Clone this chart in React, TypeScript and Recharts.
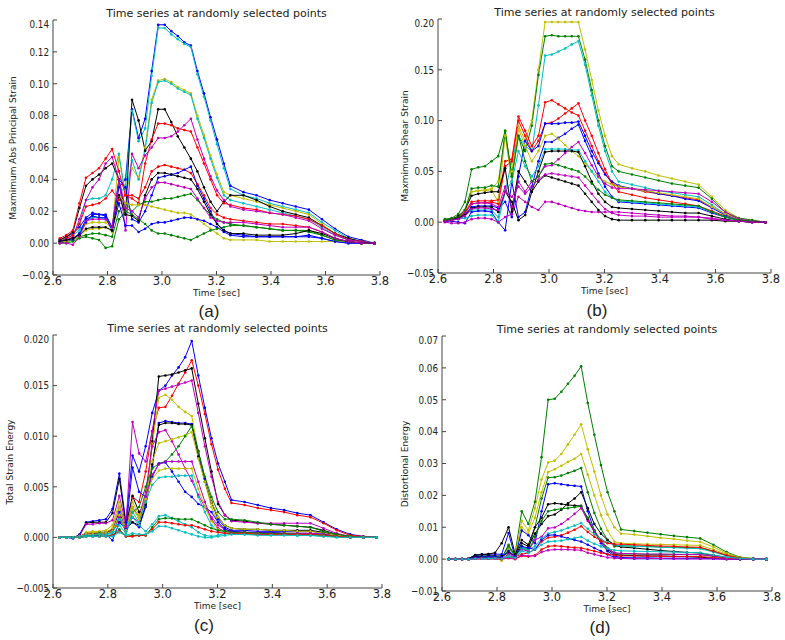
import { Line, LineChart, XAxis, YAxis } from "recharts";

// sample times (s): every point up to 3.25 s, every other point after that
const TIME = [
  2.625, 2.649, 2.673, 2.697,
  2.721, 2.745, 2.769, 2.793, 2.817,
  2.842, 2.866, 2.89, 2.914, 2.938, 2.962,
  2.986, 3.01, 3.034, 3.058, 3.082, 3.106,
  3.13, 3.154, 3.178, 3.202, 3.227, 3.251,
  3.299, 3.347, 3.395, 3.443, 3.491, 3.539,
  3.587, 3.635, 3.684, 3.732, 3.78,
];
const X_TICKS = [2.6, 2.8, 3.0, 3.2, 3.4, 3.6, 3.8];

const TITLE = "Time series at randomly selected points";
const X_LABEL = "Time [sec]";

// matplotlib classic colours
const B = "#0000ff";
const G = "#008000";
const R = "#ff0000";
const C = "#00bfbf";
const M = "#bf00bf";
const Y = "#bfbf00";
const K = "#000000";

const FRAME = "#444";
const TEXT = "#222";
const FONT = "'DejaVu Sans', Verdana, sans-serif";

// (a) Maximum abs principal strain
const A_TICKS = [-0.02, 0, 0.02, 0.04, 0.06, 0.08, 0.1, 0.12, 0.14];
const aBlue1 = [0.002, 0.004, 0.006, 0.01, 0.016, 0.019, 0.018, 0.018, 0.01, 0.035, 0.04, 0.084, 0.066, 0.078, 0.108, 0.137, 0.137, 0.133, 0.13, 0.126, 0.124, 0.108, 0.094, 0.079, 0.065, 0.05, 0.036, 0.032, 0.03, 0.027, 0.025, 0.023, 0.021, 0.015, 0.009, 0.004, 0.002, 0];
const aCyan1 = [0.001, 0.003, 0.005, 0.008, 0.014, 0.016, 0.016, 0.015, 0.009, 0.03, 0.036, 0.083, 0.064, 0.072, 0.105, 0.135, 0.135, 0.131, 0.128, 0.125, 0.123, 0.106, 0.092, 0.077, 0.062, 0.047, 0.034, 0.03, 0.028, 0.025, 0.023, 0.021, 0.019, 0.013, 0.008, 0.003, 0.001, 0];
const aYellow1 = [0.001, 0.002, 0.003, 0.006, 0.012, 0.013, 0.013, 0.013, 0.009, 0.054, 0.03, 0.047, 0.041, 0.06, 0.09, 0.102, 0.103, 0.101, 0.098, 0.096, 0.094, 0.08, 0.068, 0.055, 0.043, 0.032, 0.03, 0.028, 0.026, 0.024, 0.022, 0.02, 0.018, 0.012, 0.006, 0.003, 0.001, 0];
const aCyan2 = [0.002, 0.003, 0.005, 0.012, 0.027, 0.028, 0.028, 0.03, 0.04, 0.056, 0.03, 0.052, 0.04, 0.058, 0.088, 0.101, 0.102, 0.1, 0.097, 0.095, 0.093, 0.078, 0.066, 0.053, 0.041, 0.03, 0.027, 0.025, 0.023, 0.021, 0.019, 0.017, 0.015, 0.01, 0.005, 0.002, 0.001, 0];
const aBlack1 = [0.002, 0.004, 0.007, 0.022, 0.036, 0.04, 0.043, 0.047, 0.05, 0.04, 0.018, 0.09, 0.077, 0.058, 0.064, 0.084, 0.084, 0.076, 0.067, 0.06, 0.053, 0.045, 0.035, 0.026, 0.02, 0.026, 0.03, 0.03, 0.027, 0.023, 0.02, 0.018, 0.016, 0.011, 0.006, 0.003, 0.001, 0];
const aRed1 = [0.003, 0.005, 0.008, 0.025, 0.041, 0.044, 0.047, 0.053, 0.059, 0.045, 0.03, 0.028, 0.025, 0.05, 0.065, 0.075, 0.075, 0.074, 0.072, 0.071, 0.07, 0.06, 0.05, 0.04, 0.03, 0.025, 0.024, 0.022, 0.021, 0.019, 0.018, 0.017, 0.015, 0.011, 0.006, 0.002, 0.001, 0];
const aMagenta1 = [0.001, 0.002, 0.004, 0.015, 0.027, 0.035, 0.04, 0.05, 0.054, 0.04, 0.008, 0.056, 0.047, 0.055, 0.06, 0.066, 0.066, 0.067, 0.07, 0.074, 0.078, 0.065, 0.053, 0.042, 0.033, 0.027, 0.023, 0.021, 0.02, 0.019, 0.018, 0.016, 0.014, 0.009, 0.005, 0.002, 0.001, 0];
const aRed2 = [0.001, 0.003, 0.005, 0.012, 0.023, 0.024, 0.025, 0.028, 0.033, 0.027, 0.03, 0.03, 0.028, 0.035, 0.045, 0.048, 0.049, 0.048, 0.047, 0.046, 0.044, 0.037, 0.03, 0.022, 0.018, 0.016, 0.015, 0.014, 0.013, 0.012, 0.012, 0.011, 0.01, 0.007, 0.003, 0.001, 0, 0];
const aBlue2 = [0.001, 0.002, 0.003, 0.006, 0.013, 0.018, 0.018, 0.017, 0.01, 0.04, 0.035, 0.015, 0.013, 0.02, 0.03, 0.041, 0.042, 0.043, 0.044, 0.046, 0.048, 0.036, 0.028, 0.02, 0.012, 0.008, 0.006, 0.005, 0.004, 0.004, 0.004, 0.004, 0.004, 0.003, 0.001, 0, 0, 0];
const aGreen1 = [0, 0.001, 0.002, 0.004, 0.005, 0.006, 0.006, 0.005, 0.004, 0.02, 0.025, 0.02, 0.024, 0.026, 0.026, 0.027, 0.028, 0.028, 0.029, 0.03, 0.031, 0.027, 0.022, 0.018, 0.015, 0.013, 0.012, 0.011, 0.01, 0.009, 0.008, 0.008, 0.007, 0.005, 0.002, 0.001, 0, 0];
const aYellow2 = [0.001, 0.001, 0.002, 0.004, 0.008, 0.009, 0.009, 0.01, 0.007, 0.03, 0.025, 0.024, 0.024, 0.024, 0.023, 0.022, 0.021, 0.02, 0.019, 0.019, 0.018, 0.015, 0.012, 0.009, 0.006, 0.003, 0.002, 0.002, 0.002, 0.001, 0.001, 0.001, 0.001, 0.001, 0.001, 0.001, 0, 0];
const aBlue3 = [0.001, 0.002, 0.002, 0.006, 0.015, 0.017, 0.016, 0.016, 0.008, 0.025, 0.011, 0.011, 0.007, 0.009, 0.012, 0.013, 0.013, 0.014, 0.015, 0.016, 0.016, 0.015, 0.014, 0.012, 0.01, 0.007, 0.005, 0.004, 0.004, 0.004, 0.004, 0.004, 0.005, 0.003, 0.001, 0, 0, 0];
const aGreen2 = [0, 0, 0.001, 0.003, 0.004, 0.003, 0.002, -0.003, -0.002, 0.015, 0.02, 0.018, 0.015, 0.012, 0.008, 0.006, 0.006, 0.005, 0.004, 0.003, 0.002, 0.004, 0.006, 0.008, 0.009, 0.01, 0.011, 0.011, 0.01, 0.009, 0.008, 0.008, 0.008, 0.005, 0.002, 0.001, 0, 0];
const aBlack2 = [0.001, 0.002, 0.003, 0.005, 0.009, 0.01, 0.01, 0.01, 0.008, 0.03, 0.018, 0.017, 0.014, 0.03, 0.04, 0.044, 0.044, 0.043, 0.042, 0.041, 0.04, 0.034, 0.026, 0.018, 0.012, 0.008, 0.006, 0.006, 0.005, 0.005, 0.005, 0.006, 0.008, 0.006, 0.003, 0.001, 0, 0];
const aMagenta2 = [0, 0, -0.001, 0.004, 0.014, 0.015, 0.015, 0.015, 0.01, 0.04, 0.022, 0.02, 0.016, 0.028, 0.035, 0.038, 0.038, 0.037, 0.036, 0.035, 0.034, 0.028, 0.022, 0.016, 0.014, 0.013, 0.013, 0.013, 0.012, 0.011, 0.01, 0.01, 0.01, 0.007, 0.003, 0.001, 0, 0];

// (b) Maximum shear strain
const B_TICKS = [-0.05, 0, 0.05, 0.1, 0.15, 0.2];
const bYellow1 = [0.002, 0.003, 0.005, 0.01, 0.03, 0.031, 0.032, 0.033, 0.04, 0.085, 0.05, 0.095, 0.08, 0.1, 0.15, 0.197, 0.197, 0.197, 0.197, 0.197, 0.197, 0.17, 0.14, 0.11, 0.085, 0.065, 0.057, 0.053, 0.05, 0.046, 0.043, 0.04, 0.037, 0.025, 0.012, 0.004, 0.002, 0];
const bGreen1 = [0.003, 0.004, 0.008, 0.02, 0.052, 0.054, 0.055, 0.06, 0.065, 0.09, 0.045, 0.085, 0.07, 0.095, 0.145, 0.183, 0.184, 0.183, 0.183, 0.183, 0.183, 0.16, 0.13, 0.1, 0.075, 0.055, 0.05, 0.047, 0.044, 0.041, 0.038, 0.036, 0.034, 0.023, 0.01, 0.004, 0.002, 0];
const bCyan1 = [0.002, 0.003, 0.004, 0.006, 0.012, 0.012, 0.012, 0.012, 0.005, 0.03, 0.06, 0.085, 0.075, 0.07, 0.115, 0.164, 0.165, 0.168, 0.171, 0.175, 0.178, 0.155, 0.125, 0.095, 0.07, 0.05, 0.04, 0.037, 0.034, 0.031, 0.029, 0.027, 0.025, 0.017, 0.008, 0.003, 0.001, 0];
const bRed1 = [0.002, 0.003, 0.005, 0.01, 0.02, 0.021, 0.021, 0.021, 0.022, 0.06, 0.062, 0.104, 0.09, 0.075, 0.085, 0.118, 0.12, 0.116, 0.112, 0.108, 0.105, 0.09, 0.075, 0.06, 0.048, 0.038, 0.035, 0.033, 0.03, 0.028, 0.026, 0.024, 0.022, 0.015, 0.008, 0.003, 0.001, 0];
const bRed2 = [0.001, 0.002, 0.004, 0.009, 0.018, 0.019, 0.019, 0.02, 0.018, 0.055, 0.06, 0.1, 0.085, 0.07, 0.08, 0.097, 0.098, 0.102, 0.107, 0.112, 0.117, 0.1, 0.085, 0.068, 0.052, 0.038, 0.03, 0.027, 0.024, 0.022, 0.02, 0.018, 0.016, 0.011, 0.006, 0.002, 0.001, 0];
const bBlue1 = [0.001, 0.002, 0.004, 0.008, 0.015, 0.016, 0.016, 0.016, 0.014, 0.02, 0.005, 0.045, 0.08, 0.07, 0.075, 0.097, 0.097, 0.097, 0.098, 0.098, 0.099, 0.085, 0.07, 0.058, 0.047, 0.04, 0.036, 0.033, 0.031, 0.028, 0.026, 0.023, 0.021, 0.014, 0.007, 0.003, 0.001, 0];
const bBlue2 = [0.001, 0.001, 0, -0.001, 0.01, 0.011, 0.011, 0.01, 0, -0.008, 0.04, 0.005, 0.01, 0.035, 0.06, 0.079, 0.079, 0.083, 0.087, 0.092, 0.096, 0.08, 0.065, 0.048, 0.035, 0.025, 0.02, 0.019, 0.018, 0.017, 0.016, 0.015, 0.014, 0.009, 0.005, 0.002, 0.001, 0];
const bYellow2 = [0.002, 0.003, 0.005, 0.012, 0.03, 0.031, 0.031, 0.032, 0.02, 0.085, 0.04, 0.092, 0.075, 0.06, 0.07, 0.085, 0.087, 0.082, 0.076, 0.07, 0.065, 0.058, 0.05, 0.044, 0.04, 0.037, 0.035, 0.033, 0.031, 0.029, 0.027, 0.025, 0.023, 0.015, 0.008, 0.003, 0.001, 0];
const bCyan2 = [0.001, 0.002, 0.003, 0.004, 0.006, 0.007, 0.007, 0.007, 0, 0.03, 0.04, 0.07, 0.055, 0.045, 0.055, 0.072, 0.072, 0.072, 0.072, 0.071, 0.071, 0.06, 0.05, 0.04, 0.03, 0.024, 0.021, 0.02, 0.019, 0.018, 0.017, 0.016, 0.015, 0.01, 0.005, 0.002, 0.001, 0];
const bBlack1 = [0.002, 0.003, 0.006, 0.012, 0.026, 0.028, 0.029, 0.03, 0.03, 0.053, 0.01, 0.05, 0.04, 0.03, 0.05, 0.069, 0.07, 0.07, 0.07, 0.07, 0.069, 0.055, 0.04, 0.028, 0.02, 0.015, 0.014, 0.013, 0.012, 0.011, 0.01, 0.009, 0.009, 0.006, 0.003, 0.001, 0, 0];
const bMagenta1 = [0.001, 0.002, 0.004, 0.009, 0.018, 0.019, 0.019, 0.018, 0.015, 0.035, 0.015, 0.04, 0.03, 0.04, 0.045, 0.055, 0.056, 0.062, 0.068, 0.074, 0.079, 0.068, 0.056, 0.045, 0.038, 0.034, 0.033, 0.033, 0.032, 0.031, 0.03, 0.029, 0.028, 0.02, 0.01, 0.003, 0.001, 0];
const bGreen2 = [0.002, 0.003, 0.005, 0.012, 0.033, 0.034, 0.034, 0.036, 0.035, 0.09, 0.045, 0.085, 0.06, 0.04, 0.045, 0.057, 0.058, 0.056, 0.054, 0.052, 0.05, 0.045, 0.038, 0.032, 0.027, 0.024, 0.022, 0.021, 0.02, 0.019, 0.018, 0.017, 0.016, 0.01, 0.005, 0.002, 0.001, 0];
const bMagenta2 = [0, -0.001, -0.001, 0, 0.003, 0.004, 0.004, 0.003, 0, 0.005, 0.008, 0.025, 0.02, 0.015, 0.012, 0.02, 0.02, 0.018, 0.016, 0.014, 0.012, 0.011, 0.01, 0.01, 0.01, 0.01, 0.01, 0.009, 0.008, 0.007, 0.006, 0.006, 0.005, 0.004, 0.002, 0.001, 0, 0];
const bBlack2 = [0.001, 0.002, 0.004, 0.007, 0.014, 0.015, 0.015, 0.015, 0.01, 0.03, 0.02, 0.002, 0.007, 0.03, 0.04, 0.046, 0.044, 0.042, 0.04, 0.038, 0.036, 0.028, 0.02, 0.012, 0.006, 0.003, 0.002, 0.002, 0.002, 0.002, 0.002, 0.002, 0.002, 0.002, 0.001, 0.001, 0, 0];
const bMagenta3 = [0.001, 0.002, 0.003, 0.006, 0.013, 0.014, 0.014, 0.013, 0.012, 0.03, 0.025, 0.035, 0.028, 0.035, 0.042, 0.047, 0.048, 0.047, 0.046, 0.045, 0.044, 0.036, 0.028, 0.02, 0.013, 0.009, 0.007, 0.006, 0.006, 0.005, 0.005, 0.005, 0.005, 0.003, 0.002, 0.001, 0, 0];

// (c) Total strain energy
const C_TICKS = [-0.005, 0, 0.005, 0.01, 0.015, 0.02];
const cBlue1 = [0, 0, -0.0001, 0.0003, 0.0015, 0.0016, 0.0017, 0.0018, 0.0028, 0.0063, 0.0015, 0.0081, 0.0065, 0.009, 0.0123, 0.0145, 0.015, 0.016, 0.0168, 0.0178, 0.0194, 0.016, 0.0128, 0.0098, 0.0073, 0.0055, 0.0037, 0.0035, 0.0032, 0.0029, 0.0027, 0.0024, 0.0022, 0.0015, 0.0008, 0.0003, 0.0001, 0];
const cRed1 = [0, 0, 0, 0.0001, 0.0003, 0.0003, 0.0003, 0.0004, 0.0006, 0.0015, 0.001, 0.004, 0.0035, 0.0065, 0.0105, 0.0128, 0.0129, 0.014, 0.0152, 0.0163, 0.0175, 0.015, 0.0122, 0.0092, 0.0067, 0.0048, 0.0034, 0.0032, 0.0029, 0.0027, 0.0025, 0.0022, 0.002, 0.0014, 0.0007, 0.0002, 0.0001, 0];
const cBlack1 = [0, 0, 0, 0.0002, 0.0014, 0.0015, 0.0015, 0.0015, 0.0024, 0.0058, 0.0012, 0.0041, 0.0025, 0.0035, 0.0095, 0.0159, 0.016, 0.0161, 0.0163, 0.0165, 0.0167, 0.0132, 0.0098, 0.0065, 0.0033, 0.0022, 0.0017, 0.0016, 0.0014, 0.0013, 0.0012, 0.0011, 0.001, 0.0007, 0.0003, 0.0001, 0, 0];
const cMagenta1 = [0, 0, 0, 0.0002, 0.0013, 0.0013, 0.0014, 0.0014, 0.0017, 0.0041, 0.0012, 0.0114, 0.0083, 0.0075, 0.0105, 0.0145, 0.0147, 0.0149, 0.0151, 0.0153, 0.0155, 0.0123, 0.009, 0.006, 0.0035, 0.0022, 0.0016, 0.0015, 0.0014, 0.0014, 0.0014, 0.0014, 0.0014, 0.0009, 0.0004, 0.0001, 0, 0];
const cYellow1 = [0, 0, 0, 0.0001, 0.0005, 0.0006, 0.0006, 0.0007, 0.0012, 0.0035, 0.0008, 0.0035, 0.0022, 0.004, 0.009, 0.0138, 0.0141, 0.0136, 0.0129, 0.0124, 0.012, 0.0085, 0.0055, 0.003, 0.0015, 0.0007, 0.0005, 0.0004, 0.0004, 0.0004, 0.0004, 0.0004, 0.0004, 0.0003, 0.0002, 0.0001, 0, 0];
const cBlue2 = [0, 0, 0, 0.0001, 0.0003, 0.0004, 0.0004, 0.0005, 0.0008, 0.0025, 0.0009, 0.0015, 0.001, 0.003, 0.007, 0.0113, 0.0115, 0.0114, 0.0113, 0.0113, 0.0112, 0.0085, 0.0058, 0.0035, 0.0018, 0.001, 0.0007, 0.0007, 0.0006, 0.0006, 0.0006, 0.0006, 0.0006, 0.0004, 0.0002, 0.0001, 0, 0];
const cBlack2 = [0, 0, 0, 0.0001, 0.0004, 0.0004, 0.0005, 0.0005, 0.0007, 0.002, 0.0008, 0.0015, 0.0012, 0.0032, 0.0072, 0.0111, 0.0113, 0.0113, 0.0112, 0.0112, 0.0111, 0.008, 0.0055, 0.0035, 0.002, 0.0012, 0.0009, 0.0008, 0.0008, 0.0007, 0.0007, 0.0007, 0.0007, 0.0005, 0.0002, 0.0001, 0, 0];
const cMagenta2 = [0, 0, 0, 0.0001, 0.0004, 0.0004, 0.0004, 0.0005, 0.0008, 0.003, 0.001, 0.003, 0.002, 0.0045, 0.009, 0.0104, 0.0106, 0.0095, 0.0082, 0.0068, 0.0056, 0.0042, 0.003, 0.002, 0.0012, 0.0008, 0.0006, 0.0005, 0.0005, 0.0005, 0.0004, 0.0004, 0.0004, 0.0003, 0.0001, 0, 0, 0];
const cYellow2 = [0, 0, 0, 0.0001, 0.0004, 0.0005, 0.0005, 0.0005, 0.0009, 0.003, 0.0008, 0.003, 0.0018, 0.0035, 0.0075, 0.0093, 0.0095, 0.0097, 0.0099, 0.0101, 0.0104, 0.0078, 0.0055, 0.0035, 0.002, 0.0012, 0.0009, 0.0008, 0.0008, 0.0007, 0.0007, 0.0006, 0.0006, 0.0004, 0.0002, 0.0001, 0, 0];
const cGreen1 = [0, 0, 0, 0.0001, 0.0003, 0.0003, 0.0004, 0.0004, 0.0006, 0.002, 0.0006, 0.0025, 0.003, 0.005, 0.0068, 0.0073, 0.0075, 0.0082, 0.009, 0.01, 0.011, 0.0085, 0.006, 0.004, 0.0025, 0.0018, 0.0018, 0.0017, 0.0015, 0.0013, 0.0012, 0.0011, 0.001, 0.0006, 0.0003, 0.0001, 0, 0];
const cBlue3 = [0, 0, 0, 0.0001, 0.0002, 0.0002, 0.0002, 0.0003, -0.0003, 0.0015, 0.0008, 0.0069, 0.0045, 0.004, 0.006, 0.0073, 0.0074, 0.0065, 0.0055, 0.0045, 0.004, 0.0033, 0.003, 0.0025, 0.0015, 0.0008, 0.0006, 0.0005, 0.0005, 0.0005, 0.0004, 0.0004, 0.0004, 0.0003, 0.0001, 0, 0, 0];
const cMagenta3 = [0, 0, 0, 0.0001, 0.0003, 0.0003, 0.0003, 0.0003, 0.0005, 0.002, 0.0006, 0.002, 0.0015, 0.004, 0.0062, 0.0072, 0.0075, 0.0075, 0.0075, 0.0075, 0.0075, 0.0055, 0.0035, 0.0018, 0.0009, 0.0006, 0.0005, 0.0005, 0.0004, 0.0004, 0.0004, 0.0004, 0.0004, 0.0003, 0.0001, 0, 0, 0];
const cYellow3 = [0, 0, 0, 0.0001, 0.0003, 0.0003, 0.0003, 0.0004, 0.0006, 0.0022, 0.0007, 0.0028, 0.002, 0.0038, 0.0058, 0.0066, 0.0068, 0.0068, 0.0068, 0.0068, 0.0068, 0.0048, 0.003, 0.0016, 0.0008, 0.0005, 0.0004, 0.0004, 0.0004, 0.0003, 0.0003, 0.0003, 0.0003, 0.0002, 0.0001, 0, 0, 0];
const cCyan1 = [0, 0, 0, 0.0001, 0.0002, 0.0002, 0.0003, 0.0003, 0.0005, 0.0018, 0.0006, 0.0025, 0.0015, 0.0035, 0.0052, 0.0059, 0.006, 0.006, 0.0061, 0.0061, 0.0061, 0.004, 0.0025, 0.0012, 0.0006, 0.0004, 0.0003, 0.0003, 0.0003, 0.0003, 0.0003, 0.0002, 0.0002, 0.0002, 0.0001, 0, 0, 0];
const cCyan2 = [0, 0, 0, 0, 0.0001, 0.0001, 0.0001, 0.0002, 0.0003, 0.0012, 0.0004, 0.002, 0.0012, 0.0006, 0.0013, 0.0021, 0.0022, 0.0019, 0.0016, 0.0013, 0.001, 0.0005, 0.0002, 0.0001, 0.0002, 0.0004, 0.0004, 0.0003, 0.0003, 0.0003, 0.0003, 0.0002, 0.0002, 0.0001, 0.0001, 0, 0, 0];
const cGreen2 = [0, 0, 0, 0, 0.0001, 0.0001, 0.0001, 0.0001, 0.0002, 0.0008, 0.0001, 0.0002, 0.0002, 0.0002, 0.001, 0.0018, 0.0019, 0.0019, 0.0018, 0.0018, 0.0018, 0.0015, 0.0012, 0.0009, 0.0007, 0.0006, 0.0005, 0.0005, 0.0004, 0.0004, 0.0004, 0.0003, 0.0003, 0.0002, 0.0001, 0, 0, 0];
const cRed2 = [0, 0, 0, 0, 0.0001, 0.0001, 0.0001, 0.0001, 0.0002, 0.0006, 0.0001, 0.0001, 0.0002, 0.0002, 0.0008, 0.0015, 0.0015, 0.0014, 0.0013, 0.0012, 0.0012, 0.001, 0.0008, 0.0006, 0.0005, 0.0004, 0.0004, 0.0004, 0.0003, 0.0003, 0.0003, 0.0003, 0.0003, 0.0002, 0.0001, 0, 0, 0];
const cCyan3 = [0, 0, 0, 0, 0.0001, 0.0001, 0.0001, 0.0001, 0.0001, 0.0005, 0.0002, 0.0004, 0.0003, 0.0003, 0.0006, 0.0011, 0.0011, 0.0009, 0.0007, 0.0005, 0.0003, 0.0001, 0, 0, 0.0001, 0.0002, 0.0003, 0.0003, 0.0002, 0.0002, 0.0002, 0.0002, 0.0002, 0.0001, 0, 0, 0, 0];

// (d) Distortional energy
const D_TICKS = [-0.01, 0, 0.01, 0.02, 0.03, 0.04, 0.05, 0.06, 0.07];
const dGreen1 = [0, 0, 0, 0, 0.001, 0.001, 0.001, 0.001, 0, 0.003, 0.002, 0.015, 0.011, 0.018, 0.032, 0.05, 0.0503, 0.0525, 0.055, 0.0575, 0.0605, 0.049, 0.039, 0.0295, 0.021, 0.015, 0.0093, 0.0088, 0.0083, 0.0078, 0.0073, 0.0069, 0.0065, 0.0045, 0.0022, 0.0006, 0.0002, 0];
const dYellow1 = [0, 0, 0, 0, 0.0005, 0.0006, 0.0006, 0.0006, -0.0005, 0.002, 0.001, 0.012, 0.009, 0.016, 0.025, 0.0303, 0.0309, 0.033, 0.036, 0.039, 0.0423, 0.0345, 0.0275, 0.02, 0.014, 0.01, 0.008, 0.0077, 0.0072, 0.0067, 0.0063, 0.0058, 0.0054, 0.0038, 0.0018, 0.0005, 0.0001, 0];
const dYellow2 = [0, 0, 0, 0, 0.0004, 0.0005, 0.0005, 0.0005, 0.0002, 0.003, 0.0015, 0.01, 0.008, 0.013, 0.021, 0.0273, 0.0282, 0.0293, 0.0305, 0.0315, 0.033, 0.0265, 0.02, 0.0138, 0.009, 0.0055, 0.005, 0.0048, 0.0047, 0.0046, 0.0045, 0.0044, 0.0043, 0.003, 0.0015, 0.0004, 0.0001, 0];
const dGreen2 = [0, 0, 0, 0, 0.0005, 0.0005, 0.0005, 0.0005, 0.0003, 0.0045, 0.001, 0.004, 0.003, 0.01, 0.019, 0.0256, 0.0257, 0.0262, 0.027, 0.0277, 0.0286, 0.021, 0.0145, 0.0095, 0.006, 0.004, 0.0042, 0.0041, 0.004, 0.0038, 0.0037, 0.0036, 0.0035, 0.0025, 0.0012, 0.0003, 0.0001, 0];
const dBlue1 = [0, 0, 0, 0.0002, 0.0012, 0.0014, 0.0015, 0.0016, 0.0015, 0.0082, 0.0005, 0.009, 0.0075, 0.005, 0.015, 0.0235, 0.0238, 0.0235, 0.0232, 0.023, 0.0228, 0.015, 0.009, 0.005, 0.0025, 0.001, 0.0005, 0.0004, 0.0004, 0.0003, 0.0003, 0.0003, 0.0003, 0.0002, 0.0001, 0, 0, 0];
const dBlack1 = [0, 0, 0, 0.0002, 0.0013, 0.0015, 0.0016, 0.002, 0.005, 0.01, 0.0015, 0.006, 0.0045, 0.01, 0.013, 0.0172, 0.0175, 0.0173, 0.017, 0.0168, 0.0167, 0.0125, 0.0085, 0.0055, 0.003, 0.0015, 0.0012, 0.0011, 0.001, 0.001, 0.0009, 0.0008, 0.0006, 0.0003, 0.0001, 0, 0, 0];
const dBlack2 = [0, 0, 0, 0.0001, 0.0008, 0.0009, 0.001, 0.001, 0.001, 0.002, 0.001, 0.005, 0.004, 0.008, 0.011, 0.0135, 0.014, 0.0155, 0.0175, 0.019, 0.021, 0.016, 0.011, 0.008, 0.006, 0.0045, 0.0038, 0.0035, 0.0031, 0.0027, 0.0024, 0.0021, 0.0019, 0.0012, 0.0005, 0.0001, 0, 0];
const dGreen3 = [0, 0, 0, 0.0001, 0.0004, 0.0005, 0.0005, 0.0005, 0.0004, 0.004, 0.001, 0.0035, 0.0025, 0.007, 0.012, 0.015, 0.0155, 0.0158, 0.016, 0.0163, 0.0165, 0.013, 0.009, 0.006, 0.0035, 0.002, 0.0016, 0.0016, 0.0015, 0.0015, 0.0015, 0.0014, 0.0014, 0.0009, 0.0004, 0.0001, 0, 0];
const dMagenta1 = [0, 0, 0, 0, 0.0003, 0.0003, 0.0003, 0.0004, 0.0002, 0.0015, 0.0008, 0.003, 0.0025, 0.006, 0.007, 0.0097, 0.0099, 0.011, 0.0125, 0.0142, 0.016, 0.012, 0.0085, 0.0055, 0.0032, 0.002, 0.0018, 0.0017, 0.0016, 0.0016, 0.0015, 0.0015, 0.0014, 0.001, 0.0004, 0.0001, 0, 0];
const dCyan1 = [0, 0, 0, 0, 0.0002, 0.0002, 0.0002, 0.0003, 0.0002, 0.001, 0.0006, 0.0035, 0.003, 0.004, 0.0065, 0.008, 0.0085, 0.009, 0.0098, 0.0105, 0.0113, 0.0095, 0.0078, 0.0062, 0.0052, 0.0045, 0.0042, 0.004, 0.0039, 0.0037, 0.0036, 0.0034, 0.0033, 0.0022, 0.001, 0.0003, 0.0001, 0];
const dRed1 = [0, 0, 0, 0, 0.0001, 0.0001, 0.0001, 0.0001, 0.0001, 0.0005, 0.0008, 0.0015, 0.002, 0.003, 0.0055, 0.0068, 0.007, 0.0075, 0.0083, 0.0092, 0.0103, 0.0085, 0.007, 0.0058, 0.005, 0.0047, 0.0047, 0.0045, 0.0043, 0.0041, 0.004, 0.0038, 0.0037, 0.0025, 0.0012, 0.0003, 0.0001, 0];
const dBlue2 = [0, 0, 0, 0.0001, 0.0006, 0.0007, 0.0007, 0.0008, 0.0006, 0.0025, 0.001, 0.004, 0.0035, 0.003, 0.006, 0.0075, 0.0076, 0.0071, 0.0065, 0.006, 0.0055, 0.0045, 0.0035, 0.0025, 0.0015, 0.0005, 0.0002, 0.0001, 0.0001, 0.0001, 0.0001, 0.0001, 0.0001, 0.0001, 0, 0, 0, 0];
const dRed2 = [0, 0, 0, 0, 0.0001, 0.0001, 0.0001, 0.0001, 0, 0.0003, 0, 0.001, 0.0008, 0.0012, 0.003, 0.004, 0.0042, 0.004, 0.0038, 0.0036, 0.0035, 0.003, 0.0025, 0.002, 0.0015, 0.0012, 0.001, 0.001, 0.0009, 0.0009, 0.0008, 0.0008, 0.0008, 0.0005, 0.0002, 0.0001, 0, 0];
const dMagenta2 = [0, 0, 0, 0, 0.0001, 0.0001, 0.0001, 0.0001, 0.0001, 0.0004, 0.0002, 0.0012, 0.001, 0.001, 0.0022, 0.0028, 0.003, 0.003, 0.003, 0.0029, 0.0028, 0.002, 0.0015, 0.001, 0.0005, 0.0003, 0.0002, 0.0002, 0.0002, 0.0002, 0.0001, 0.0001, 0.0001, 0.0001, 0, 0, 0, 0];
const dCyan2 = [0, 0, 0, 0, 0.0001, 0.0001, 0.0002, 0.0002, 0.0001, 0.0008, 0.0004, 0.0025, 0.002, 0.003, 0.0045, 0.0055, 0.0056, 0.0058, 0.0062, 0.0066, 0.007, 0.0058, 0.0048, 0.004, 0.0033, 0.0028, 0.0026, 0.0025, 0.0024, 0.0023, 0.0022, 0.0021, 0.002, 0.0013, 0.0006, 0.0002, 0, 0];

type Series = [string, number[]];

const A_SERIES: Series[] = [
  [B, aBlue1], [C, aCyan1], [Y, aYellow1], [C, aCyan2], [K, aBlack1], [R, aRed1],
  [M, aMagenta1], [R, aRed2], [B, aBlue2], [G, aGreen1], [Y, aYellow2], [B, aBlue3],
  [G, aGreen2], [K, aBlack2], [M, aMagenta2],
];
const B_SERIES: Series[] = [
  [Y, bYellow1], [G, bGreen1], [C, bCyan1], [R, bRed1], [R, bRed2], [B, bBlue1],
  [B, bBlue2], [Y, bYellow2], [C, bCyan2], [K, bBlack1], [M, bMagenta1], [G, bGreen2],
  [M, bMagenta2], [K, bBlack2], [M, bMagenta3],
];
const C_SERIES: Series[] = [
  [B, cBlue1], [R, cRed1], [K, cBlack1], [M, cMagenta1], [Y, cYellow1], [B, cBlue2],
  [K, cBlack2], [M, cMagenta2], [Y, cYellow2], [G, cGreen1], [B, cBlue3], [M, cMagenta3],
  [Y, cYellow3], [C, cCyan1], [C, cCyan2], [G, cGreen2], [R, cRed2], [C, cCyan3],
];
const D_SERIES: Series[] = [
  [G, dGreen1], [Y, dYellow1], [Y, dYellow2], [G, dGreen2], [B, dBlue1], [K, dBlack1],
  [K, dBlack2], [G, dGreen3], [M, dMagenta1], [C, dCyan1], [R, dRed1], [B, dBlue2],
  [R, dRed2], [M, dMagenta2], [C, dCyan2],
];

const fmtY = (digits: number) => (v: number) =>
  (v < -1e-9 ? "\u2212" : "") + Math.abs(v).toFixed(digits);

// y tick labels in the source are narrow; squeeze them horizontally
const makeYTick = (digits: number) => (props: any) => {
  const { x, y, payload } = props;
  return (
    <text
      transform={`translate(${x},${y}) scale(0.8,1)`}
      textAnchor="end"
      dominantBaseline="central"
      fill={TEXT}
      fontSize={11}
      fontFamily={FONT}
    >
      {fmtY(digits)(payload.value)}
    </text>
  );
};

interface PanelProps {
  box: [number, number, number, number]; // plot left, right, top, bottom
  yTicks: number[];
  digits: number;
  yLabel: string;
  yLabelX: number;
  caption: string;
  captionPos: [number, number];
  series: Series[];
}

const YW = 50;
const XH = 30;
const PAD = 5;
const RPAD = 14;

function Panel({ box, yTicks, digits, yLabel, yLabelX, caption, captionPos, series }: PanelProps) {
  const [x0, x1, y0, y1] = box;
  const cx = (x0 + x1) / 2;
  const cy = (y0 + y1) / 2;
  const yDomain = [yTicks[0], yTicks[yTicks.length - 1]];
  const data = TIME.map((t, i) => {
    const row: Record<string, number> = { t };
    series.forEach(([, vals], j) => {
      row["s" + j] = vals[i];
    });
    return row;
  });
  const blank = () => "";

  return (
    <>
      <div style={{ position: "absolute", left: x0 - YW, top: y0 - PAD }}>
        <LineChart
          width={x1 - x0 + YW + RPAD}
          height={y1 - y0 + XH + PAD}
          data={data}
          margin={{ top: PAD, right: RPAD, bottom: 0, left: 0 }}
        >
          <XAxis
            xAxisId="b"
            dataKey="t"
            type="number"
            domain={[2.6, 3.8]}
            ticks={X_TICKS}
            allowDataOverflow
            tickFormatter={(v) => v.toFixed(1)}
            height={XH}
            tickSize={-4}
            tickMargin={6}
            stroke={FRAME}
            tick={{ fill: TEXT, fontSize: 11.5, fontFamily: FONT }}
          />
          <XAxis
            xAxisId="t"
            orientation="top"
            dataKey="t"
            type="number"
            domain={[2.6, 3.8]}
            ticks={X_TICKS}
            allowDataOverflow
            tickFormatter={blank}
            height={0}
            tickSize={-4}
            stroke={FRAME}
          />
          <YAxis
            yAxisId="l"
            type="number"
            domain={yDomain}
            ticks={yTicks}
            allowDataOverflow
            width={YW}
            tickSize={-4}
            tickMargin={8}
            stroke={FRAME}
            tick={makeYTick(digits)}
          />
          <YAxis
            yAxisId="r"
            orientation="right"
            type="number"
            domain={yDomain}
            ticks={yTicks}
            allowDataOverflow
            tickFormatter={blank}
            width={0}
            tickSize={-4}
            stroke={FRAME}
          />
          {series.map(([color], j) => (
            <Line
              key={j}
              xAxisId="b"
              yAxisId="l"
              type="linear"
              dataKey={"s" + j}
              stroke={color}
              strokeWidth={1}
              dot={{ r: 1.3, fill: color, stroke: color, strokeWidth: 0 }}
              activeDot={false}
              isAnimationActive={false}
            />
          ))}
        </LineChart>
      </div>
      <div style={{ ...label, left: cx, top: y0 - 7, fontSize: 11 }}>{TITLE}</div>
      <div style={{ ...label, left: cx, top: y1 + 18, fontSize: 9 }}>{X_LABEL}</div>
      <div
        style={{
          ...label,
          left: yLabelX,
          top: cy,
          fontSize: 9,
          transform: "translate(-50%, -50%) rotate(-90deg)",
        }}
      >
        {yLabel}
      </div>
      <div
        style={{
          ...label,
          left: captionPos[0],
          top: captionPos[1],
          fontSize: 17,
          fontFamily: "'Liberation Sans', Arial, sans-serif",
        }}
      >
        {caption}
      </div>
    </>
  );
}

const label: React.CSSProperties = {
  position: "absolute",
  transform: "translate(-50%, -50%)",
  whiteSpace: "nowrap",
  color: TEXT,
  fontFamily: FONT,
  lineHeight: 1,
};

export default function App() {
  return (
    <div style={{ position: "absolute", left: 0, top: 0, width: 785, height: 640, background: "#fff" }}>
      <Panel
        box={[53, 380, 20, 275]}
        yTicks={A_TICKS}
        digits={2}
        yLabel="Maxmimum Abs Principal Strain"
        yLabelX={13}
        caption="(a)"
        captionPos={[209, 311]}
        series={A_SERIES}
      />
      <Panel
        box={[438, 771, 19, 273]}
        yTicks={B_TICKS}
        digits={2}
        yLabel="Maxmimum Shear Strain"
        yLabelX={405}
        caption="(b)"
        captionPos={[597, 310]}
        series={B_SERIES}
      />
      <Panel
        box={[53, 382, 335, 588]}
        yTicks={C_TICKS}
        digits={3}
        yLabel="Total Strain Energy"
        yLabelX={10}
        caption="(c)"
        captionPos={[204, 625]}
        series={C_SERIES}
      />
      <Panel
        box={[442, 772, 336, 591]}
        yTicks={D_TICKS}
        digits={2}
        yLabel="Distortional Energy"
        yLabelX={405}
        caption="(d)"
        captionPos={[600, 627]}
        series={D_SERIES}
      />
    </div>
  );
}
